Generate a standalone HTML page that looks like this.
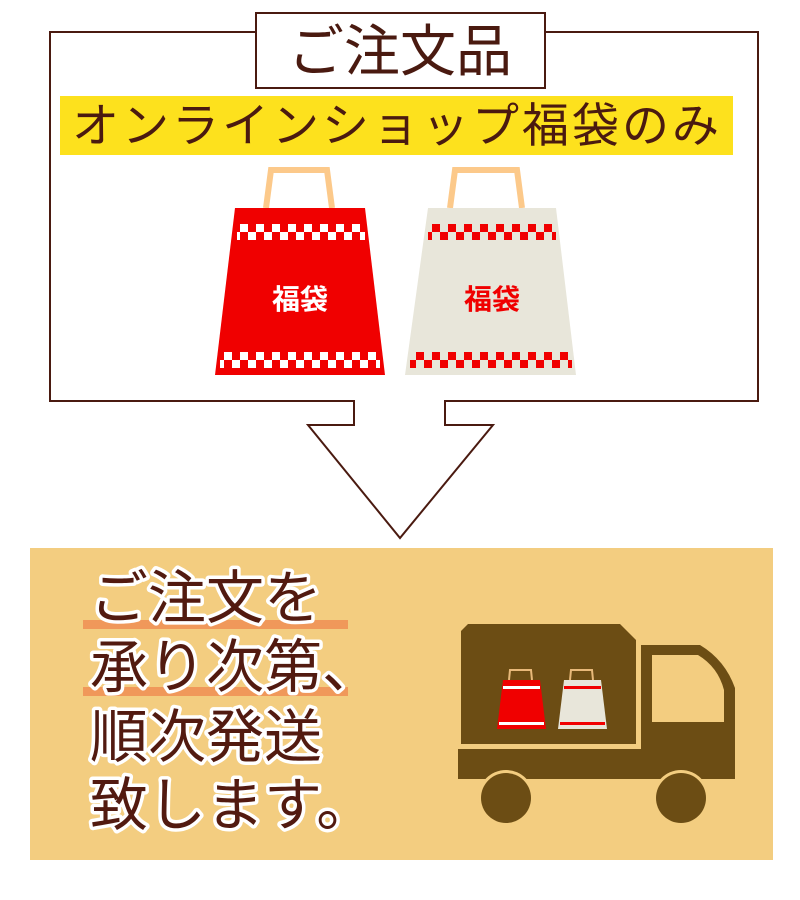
<!DOCTYPE html>
<html><head><meta charset="utf-8"><style>
html,body{margin:0;padding:0;background:#fff;width:800px;height:900px;overflow:hidden}
svg{display:block}
.jp{font-family:"Liberation Sans","Noto Sans CJK JP",sans-serif}
</style></head><body>
<svg width="800" height="900" viewBox="0 0 800 900" xmlns="http://www.w3.org/2000/svg">
<defs>
<pattern id="chkW" x="0" y="0" width="16" height="16" patternUnits="userSpaceOnUse">
<rect x="0" y="0" width="8" height="8" fill="#fff"/><rect x="8" y="8" width="8" height="8" fill="#fff"/>
</pattern>
<pattern id="chkR" x="0" y="0" width="16" height="16" patternUnits="userSpaceOnUse">
<rect x="0" y="0" width="8" height="8" fill="#f00000"/><rect x="8" y="8" width="8" height="8" fill="#f00000"/>
</pattern>
</defs>
<path d="M255 32 H50 V401 H354 V425 H308 L400 538 L493 425 H445 V401 H758 V32 H545" fill="none" stroke="#4a1a10" stroke-width="2"/>
<rect x="256" y="13" width="289" height="75" fill="#fff" stroke="#4a1a10" stroke-width="2"/>
<text x="400" y="71" text-anchor="middle" class="jp" font-size="56" fill="#4a1a10">ご注文品</text>
<rect x="60" y="96" width="673" height="59" fill="#fde11d"/>
<text x="397" y="142" text-anchor="middle" class="jp" font-size="47" letter-spacing="3" fill="#4a1a10">オンラインショップ福袋のみ</text>
<path d="M266 208 L271 170 H327 L332 208" fill="none" stroke="#fcc98a" stroke-width="6"/>
<polygon points="235,208 365,208 385,375 215,375" fill="#f00000"/>
<rect x="237" y="224" width="128" height="16" fill="url(#chkW)"/>
<rect x="220" y="352" width="160" height="16" fill="url(#chkW)"/>
<text x="300" y="309" text-anchor="middle" class="jp" font-size="28" font-weight="bold" fill="#fff">福袋</text>
<path d="M450 208 L455 170 H517 L522 208" fill="none" stroke="#fcc98a" stroke-width="6"/>
<polygon points="428,208 556,208 576,375 405,375" fill="#e8e6da"/>
<rect x="428" y="224" width="128" height="16" fill="url(#chkR)"/>
<rect x="410" y="352" width="162" height="16" fill="url(#chkR)"/>
<text x="492" y="309" text-anchor="middle" class="jp" font-size="28" font-weight="bold" fill="#f00000">福袋</text>
<rect x="30" y="548" width="743" height="312" fill="#f3cd80"/>
<rect x="83" y="620" width="265" height="9" fill="#f0985a"/>
<rect x="83" y="687" width="265" height="9" fill="#f0985a"/>
<g class="jp" font-size="58" fill="#521a10" stroke="#fff" stroke-width="7" paint-order="stroke" stroke-linejoin="round">
<text x="90" y="618">ご注文を</text>
<text x="90" y="687">承り次第、</text>
<text x="90" y="757">順次発送</text>
<text x="90" y="825">致します。</text>
</g>
<g fill="#6c4d14">
<path d="M461 631 L468 624 H620 L636 640 V744 H461 Z"/>
<path d="M641 645 H700 Q725 660 735 688 V778 H641 Z"/>
<rect x="458" y="749" width="277" height="30"/>
</g>
<path d="M652 655 H698 Q718 667 724 690 V722 H652 Z" fill="#f3cd80"/>
<circle cx="506" cy="798" r="28" fill="#f3cd80"/>
<circle cx="506" cy="798" r="25" fill="#6c4d14"/>
<circle cx="681" cy="798" r="28" fill="#f3cd80"/>
<circle cx="681" cy="798" r="25" fill="#6c4d14"/>
<path d="M509 680 L510 670 H531 L532 680" fill="none" stroke="#e8b97a" stroke-width="2"/>
<polygon points="503,680 540,680 546,729 497,729" fill="#f00000"/>
<rect x="503" y="686" width="37" height="3" fill="#fff"/>
<rect x="499" y="722" width="45" height="3" fill="#fff"/>
<path d="M570 680 L571 670 H592 L593 680" fill="none" stroke="#e8b97a" stroke-width="2"/>
<polygon points="564,680 601,680 607,729 558,729" fill="#e8e6da"/>
<rect x="564" y="686" width="37" height="3" fill="#f00000"/>
<rect x="560" y="722" width="45" height="3" fill="#f00000"/>
</svg>
</body></html>
